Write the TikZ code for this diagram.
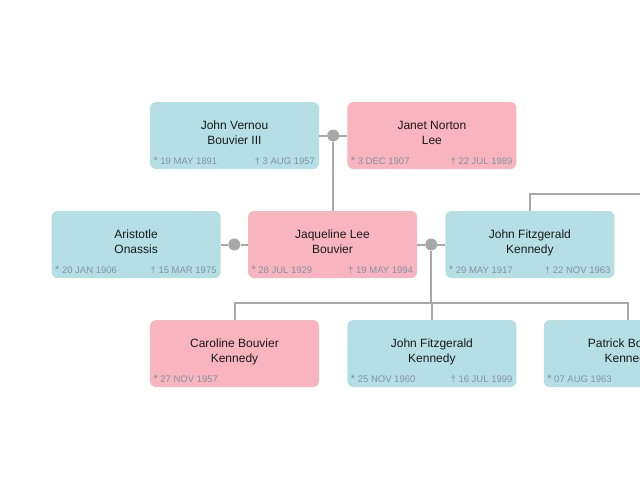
\documentclass[tikz,border=0pt]{standalone}
\usepackage{fontspec}
\setmainfont{Liberation Sans}
\usetikzlibrary{positioning,calc}
\definecolor{boyblue}{HTML}{B5DFE5}
\definecolor{girlpink}{HTML}{F8B5C0}
\definecolor{linegray}{HTML}{A8A8A8}
\definecolor{dategray}{HTML}{8492A2}
\tikzset{
  person/.style={rounded corners=6pt, minimum width=169pt, minimum height=67pt,
    align=center, inner sep=0pt, text depth=6pt,
    font=\fontsize{12}{15}\selectfont, text=black!90},
  man/.style={person, fill=boyblue},
  woman/.style={person, fill=girlpink},
  union/.style={circle, fill=linegray, minimum size=12pt, inner sep=0pt},
  link/.style={draw=linegray, line width=2pt},
  date/.style={font=\fontsize{9.5}{10}\selectfont, text=dategray, inner sep=0pt},
}
\newcommand\born[2]{\node[date, anchor=base west] at ([shift={(3.5,-5)}]#1.south west) {{\fontsize{11}{10}\selectfont*} #2};}
\newcommand\died[2]{\node[date, anchor=base east] at ([shift={(-4,-5)}]#1.south east) {† #2};}
\begin{document}
\begin{tikzpicture}[x=1pt, y=-1pt]
  \useasboundingbox (0,0) rectangle (640,480);
  \clip (0,0) rectangle (640,480);
  % grandparents
  \node[man] (jvb) at (234.5,135.5) {John Vernou\\Bouvier III};
  \node[woman, right=28pt of jvb] (jnl) {Janet Norton\\Lee};
  % parents
  \node[woman] (jlb) at (332.5,244.5) {Jaqueline Lee\\Bouvier};
  \node[man, left=27pt of jlb] (ao) {Aristotle\\Onassis};
  \node[man, right=28pt of jlb] (jfk) {John Fitzgerald\\Kennedy};
  % children
  \node[woman] (cbk) at (234.5,353.5) {Caroline Bouvier\\Kennedy};
  \node[man, right=28pt of cbk] (jfkjr) {John Fitzgerald\\Kennedy};
  \node[man, right=27pt of jfkjr] (pbk) {Patrick Bouvier\\Kennedy};
  % unions
  \node[union] (u1) at ($(jvb.east)!0.5!(jnl.west)$) {};
  \node[union] (u2) at ($(ao.east)!0.5!(jlb.west)$) {};
  \node[union] (u3) at ($(jlb.east)!0.5!(jfk.west)$) {};
  \coordinate (kids) at ($(u3)+(0,58)$);
  \coordinate (jfkup) at (660,194);
  % links
  \draw[link] (jvb) -- (u1) -- (jnl);
  \draw[link] (u1) -- (u1 |- jlb.north);
  \draw[link] (ao) -- (u2) -- (jlb);
  \draw[link] (jlb) -- (u3) -- (jfk);
  \draw[link] (u3) -- (kids);
  \draw[link] (cbk.north) |- (kids) -| (pbk.north);
  \draw[link] (jfkjr.north) -- (jfkjr.north |- kids);
  \draw[link] (jfk.north) |- (jfkup);
  % dates
  \born{jvb}{19 MAY 1891} \died{jvb}{3 AUG 1957}
  \born{jnl}{3 DEC 1907} \died{jnl}{22 JUL 1989}
  \born{ao}{20 JAN 1906} \died{ao}{15 MAR 1975}
  \born{jlb}{28 JUL 1929} \died{jlb}{19 MAY 1994}
  \born{jfk}{29 MAY 1917} \died{jfk}{22 NOV 1963}
  \born{cbk}{27 NOV 1957}
  \born{jfkjr}{25 NOV 1960} \died{jfkjr}{16 JUL 1999}
  \born{pbk}{07 AUG 1963}
\end{tikzpicture}
\end{document}
